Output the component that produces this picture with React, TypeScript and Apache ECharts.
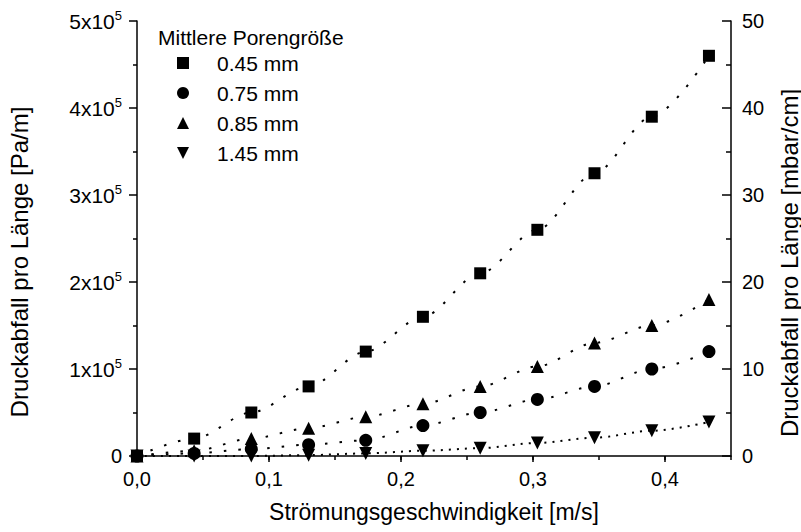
import { useEffect, useRef } from 'react';
import * as echarts from 'echarts';

const FONT = '"Liberation Sans", Arial, Helvetica, sans-serif';

// Strömungsgeschwindigkeit [m/s]
const velocity = [0, 0.0433, 0.0866, 0.13, 0.1733, 0.2166, 0.26, 0.3033, 0.3466, 0.39, 0.4333];
// Druckabfall pro Länge [Pa/m] per mittlere Porengröße
const dp045 = [0, 20000, 50000, 80000, 120000, 160000, 210000, 260000, 325000, 390000, 460000];
const dp075 = [0, 3000, 8000, 13000, 18000, 35000, 50000, 65000, 80000, 100000, 120000];
const dp085 = [0, 6000, 20000, 32000, 45000, 60000, 80000, 103000, 130000, 150000, 180000];
const dp145 = [0, 0, 0, 1000, 3000, 6000, 9000, 15000, 21000, 29000, 39000];

const seriesNames = ['0.45 mm', '0.75 mm', '0.85 mm', '1.45 mm'];
const legendTitle = 'Mittlere Porengröße';
const xTitle = 'Strömungsgeschwindigkeit [m/s]';
const yLeftTitle = 'Druckabfall pro Länge [Pa/m]';
const yRightTitle = 'Druckabfall pro Länge [mbar/cm]';

const ICON_SQUARE = 'path://M0,0H10V10H0Z';
const ICON_UP = 'path://M5,0L10,10L0,10Z';
const ICON_DOWN = 'path://M0,0L10,0L5,10Z';

export default function App() {
  const ref = useRef<HTMLDivElement>(null);
  useEffect(() => {
    const chart = echarts.init(ref.current!, null, { renderer: 'svg' });
    const axisLineStyle = { color: '#000', width: 1.5 };
    const toPairs = (arr: number[]) => velocity.map((v, i) => [v, arr[i]]);
    const mkSeries = (name: string, arr: number[], symbol: string, size: number, rotate: number, dash: number[]) => ({
      name,
      type: 'line',
      xAxisIndex: 0,
      yAxisIndex: 0,
      data: toPairs(arr),
      symbol,
      symbolSize: size,
      symbolRotate: rotate,
      smooth: 0.3,
      smoothMonotone: 'x',
      showAllSymbol: true,
      itemStyle: { color: '#000' },
      lineStyle: { color: '#000', width: 2, type: dash },
      emphasis: { disabled: true },
    });

    chart.setOption({
      animation: false,
      backgroundColor: '#fff',
      textStyle: { fontFamily: FONT, color: '#000' },
      grid: { left: 137, right: 70, top: 21, bottom: 76, containLabel: false },
      legend: {
        orient: 'vertical',
        left: 177,
        top: 51,
        padding: 0,
        itemWidth: 12,
        itemHeight: 12,
        itemGap: 6,
        selectedMode: false,
        textStyle: { fontFamily: FONT, fontSize: 21, color: '#000', lineHeight: 24, padding: [0, 0, 0, 23] },
        data: [
          { name: seriesNames[0], icon: ICON_SQUARE },
          { name: seriesNames[1], icon: 'circle' },
          { name: seriesNames[2], icon: ICON_UP },
          { name: seriesNames[3], icon: ICON_DOWN },
        ],
      },
      graphic: [
        {
          type: 'text',
          x: 158,
          y: 37,
          style: { text: legendTitle, fontFamily: FONT, fontSize: 21, fill: '#000', align: 'left', verticalAlign: 'middle' },
        },
        {
          type: 'text',
          x: 19,
          y: 262,
          rotation: Math.PI / 2,
          style: { text: yLeftTitle, fontFamily: FONT, fontSize: 24, fill: '#000', align: 'center', verticalAlign: 'middle' },
        },
        {
          type: 'text',
          x: 789,
          y: 263,
          rotation: Math.PI / 2,
          style: { text: yRightTitle, fontFamily: FONT, fontSize: 24, fill: '#000', align: 'center', verticalAlign: 'middle' },
        },
      ],
      xAxis: [
        {
          type: 'value',
          position: 'bottom',
          min: 0,
          max: 0.45,
          interval: 0.1,
          name: xTitle,
          nameLocation: 'middle',
          nameGap: 44,
          nameTextStyle: { fontFamily: FONT, fontSize: 23, color: '#000' },
          axisLine: { show: true, onZero: false, lineStyle: axisLineStyle },
          axisTick: { show: true, length: 6, lineStyle: axisLineStyle },
          axisLabel: {
            margin: 13,
            fontSize: 20,
            color: '#000',
            showMaxLabel: false,
            formatter: (v: number) => (Math.abs(v - 0.45) < 1e-9 ? '' : v.toFixed(1).replace('.', ',')),
          },
          splitLine: { show: false },
        },
        {
          type: 'value',
          position: 'bottom',
          min: 0,
          max: 0.45,
          interval: 0.05,
          axisLine: { show: false },
          axisTick: { show: true, length: 4, lineStyle: axisLineStyle },
          axisLabel: { show: false },
          splitLine: { show: false },
        },
      ],
      yAxis: [
        {
          type: 'value',
          position: 'left',
          min: 0,
          max: 500000,
          interval: 100000,
          axisLine: { show: true, onZero: false, lineStyle: axisLineStyle },
          axisTick: { show: true, length: 8, lineStyle: axisLineStyle },
          minorTick: { show: true, splitNumber: 2, length: 4, lineStyle: axisLineStyle },
          axisLabel: {
            margin: 15,
            fontSize: 20,
            color: '#000',
            formatter: (v: number) => (v === 0 ? '0' : `{b|${Math.round(v / 100000)}x10}{s|5}`),
            rich: {
              b: { fontFamily: FONT, fontSize: 21, color: '#000', lineHeight: 24 },
              s: { fontFamily: FONT, fontSize: 13, color: '#000', verticalAlign: 'top', lineHeight: 14 },
            },
          },
          splitLine: { show: false },
          minorSplitLine: { show: false },
        },
        {
          type: 'value',
          position: 'right',
          min: 0,
          max: 50,
          interval: 10,
          axisLine: { show: true, onZero: false, lineStyle: axisLineStyle },
          axisTick: { show: true, inside: true, length: 9, lineStyle: axisLineStyle },
          minorTick: { show: true, splitNumber: 2, length: 5, lineStyle: axisLineStyle },
          axisLabel: { margin: 11, fontSize: 20, color: '#000' },
          splitLine: { show: false },
          minorSplitLine: { show: false },
        },
      ],
      series: [
        mkSeries(seriesNames[0], dp045, 'rect', 12, 0, [2.5, 12]),
        mkSeries(seriesNames[1], dp075, 'circle', 13, 0, [2.5, 12]),
        mkSeries(seriesNames[2], dp085, 'triangle', 13, 0, [2.5, 12]),
        mkSeries(seriesNames[3], dp145, 'triangle', 13, 180, [2, 6]),
      ],
    });
    return () => chart.dispose();
  }, []);
  return <div ref={ref} style={{ position: 'fixed', left: 0, top: 0, width: 801, height: 532 }} />;
}
